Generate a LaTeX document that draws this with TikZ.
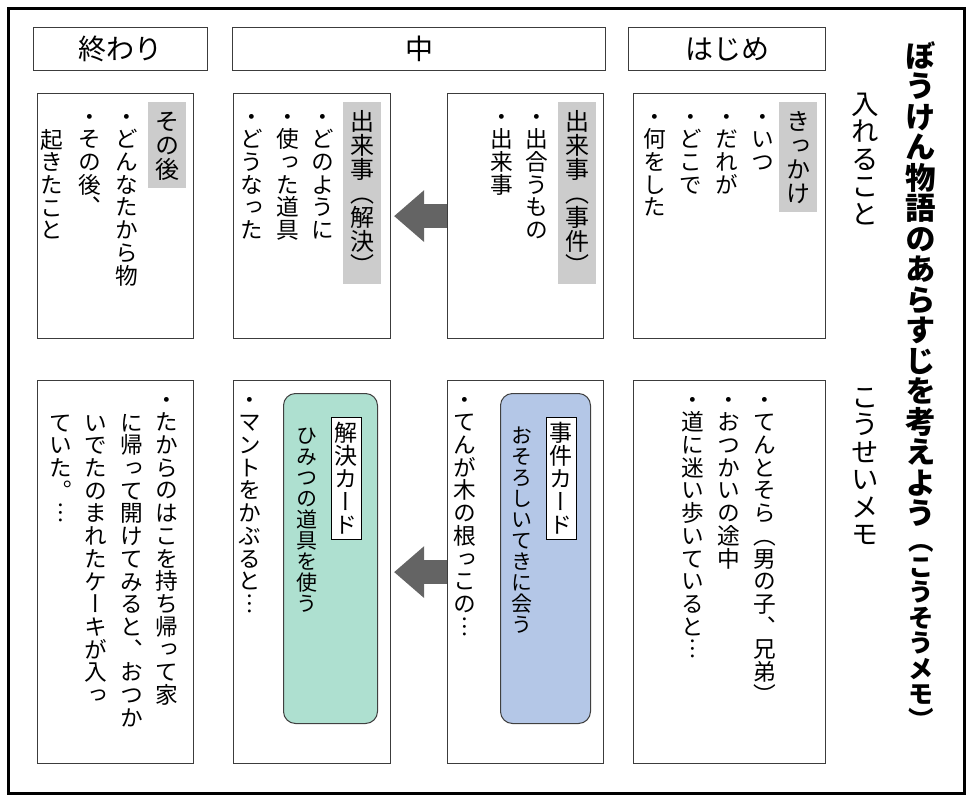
\documentclass[tikz,border=0pt]{standalone}
\usepackage{fontspec}
\usetikzlibrary{arrows.meta,positioning}
\newfontfamily\jpfont{Noto Sans CJK JP}
\newfontfamily\tatefont[RawFeature=+vert]{Noto Sans CJK JP}
\definecolor{midashigray}{RGB}{204,204,204}
\definecolor{jikenblue}{RGB}{180,199,231}
\definecolor{kaiketsugreen}{RGB}{174,224,208}
\definecolor{yajirushigray}{RGB}{100,100,100}
\definecolor{wakugray}{RGB}{60,60,60}

% one column of upright characters, one em per character
\ExplSyntaxOn
\tl_new:N \l_tate_moji_tl
\NewDocumentCommand \tatetext { m }
  {
    \tl_set:No \l_tate_moji_tl {#1}
    \vbox:n
      {
        \offinterlineskip
        \tl_map_inline:Nn \l_tate_moji_tl
          { \hbox_to_wd:nn { 1em } { \hss ##1 \hss \vrule~width~0pt~height~.88em~depth~.12em } }
      }
  }
\ExplSyntaxOff

\begin{document}
\begin{tikzpicture}[x=1pt, y=-1pt,
  waku/.style={draw=wakugray, line width=1.2pt, inner sep=0pt, anchor=north west},
  koumoku/.style={waku, minimum height=43pt, font=\jpfont\fontsize{28pt}{32pt}\selectfont},
  tate/.style={anchor=north, inner sep=0pt, font=\tatefont\fontsize{22.7pt}{27pt}\selectfont},
  midashi/.style={tate, fill=midashigray, inner sep=7pt, font=\tatefont\fontsize{24pt}{28pt}\selectfont},
  card/.style={waku, draw=black!75, line width=1pt, rounded corners=12pt, minimum height=330pt},
  cardname/.style={tate, draw=black, fill=white, line width=.8pt, inner sep=3.5pt, font=\tatefont\fontsize{23pt}{27pt}\selectfont},
  cardtext/.style={tate, font=\tatefont\fontsize{21pt}{25pt}\selectfont},
  yajirushi/.style={draw=yajirushigray, line width=24pt, -{Triangle[length=30pt,width=52pt,line width=0pt]}, shorten >=3pt}]
\useasboundingbox (0,0) rectangle (980,803);
\draw[line width=3pt] (8,8) rectangle (964,793);

\node[tate, font=\tatefont\bfseries\fontsize{30.5pt}{34pt}\selectfont] (title) at (921,40)
  {\vbox{\offinterlineskip\tatetext{ぼうけん物語のあらすじを考えよう}%
   \hbox to 1em{\hss\fontsize{25.5pt}{29pt}\selectfont\tatetext{（こうそうメモ）}\hss}}};
\node[tate, font=\tatefont\fontsize{27.5pt}{32pt}\selectfont] (ireru) at (865,90) {\tatetext{入れること}};
\node[tate, font=\tatefont\fontsize{27.5pt}{32pt}\selectfont] (kousei) at (865,383) {\tatetext{こうせいメモ}};

\node[koumoku, minimum width=174pt] (owariHead) at (33,27) {終わり};
\node[koumoku, minimum width=373pt] (nakaHead) at (232,27) {中};
\node[koumoku, minimum width=197pt] (hajimeHead) at (628,27) {はじめ};

\node[waku, minimum width=156pt, minimum height=245pt] (owariTop) at (37,93) {};
\node[waku, minimum width=157pt, minimum height=245pt] (nakaLTop) at (233,93) {};
\node[waku, minimum width=156pt, minimum height=245pt] (nakaRTop) at (447,93) {};
\node[waku, minimum width=192pt, minimum height=245pt] (hajimeTop) at (633,93) {};
\node[waku, minimum width=156pt, minimum height=383pt] (owariBot) at (37,380) {};
\node[waku, minimum width=157pt, minimum height=383pt] (nakaLBot) at (233,380) {};
\node[waku, minimum width=156pt, minimum height=383pt] (nakaRBot) at (447,380) {};
\node[waku, minimum width=192pt, minimum height=383pt] (hajimeBot) at (633,380) {};

\draw[yajirushi] (nakaRTop) -- (nakaLTop);
\draw[yajirushi] (nakaRBot) -- (nakaLBot);

\node[midashi] (kikkake) at (798,102) {\tatetext{きっかけ}};
\foreach \t [count=\i] in {・いつ,・だれが,・どこで,・何をした}
  \node[tate] (hajime-\i) at ({763-36*(\i-1)},105) {\tatetext{\t}};

\node[midashi] (jiken) at (577,102) {\tatetext{出来事（事件）}};
\foreach \t [count=\i] in {・出合うもの,・出来事}
  \node[tate] (nakaR-\i) at ({537-35*(\i-1)},105) {\tatetext{\t}};

\node[midashi] (kaiketsu) at (362,102) {\tatetext{出来事（解決）}};
\foreach \t [count=\i] in {・どのように,・使った道具,・どうなった}
  \node[tate] (nakaL-\i) at ({323-35.5*(\i-1)},105) {\tatetext{\t}};

\node[midashi] (sonogo) at (167,102) {\tatetext{その後}};
\node[tate] (owari-1) at (127,105) {\tatetext{・どんなたから物}};
\node[tate] (owari-2) at (90,105) {\tatetext{・その後、}};
\node[tate] (owari-3) at (52,128) {\tatetext{起きたこと}};

\foreach \t [count=\i] in {・てんとそら（男の子、兄弟）,・おつかいの途中,・道に迷い歩いていると︙}
  \node[tate] (hajimeMemo-\i) at ({765-36*(\i-1)},388) {\tatetext{\t}};

\node[card, fill=jikenblue, minimum width=90pt] (jikenCard) at (500,393) {};
\node[cardname] (jikenName) at (561,417) {\tatetext{事件カード}};
\node[cardtext] (jikenText) at (522,425) {\tatetext{おそろしいてきに会う}};
\node[tate] (nakaRMemo) at (465,388) {\tatetext{・てんが木の根っこの︙}};

\node[card, fill=kaiketsugreen, minimum width=94pt] (kaiketsuCard) at (283,393) {};
\node[cardname] (kaiketsuName) at (346,417) {\tatetext{解決カード}};
\node[cardtext] (kaiketsuText) at (307,425) {\tatetext{ひみつの道具を使う}};
\node[tate] (nakaLMemo) at (250,388) {\tatetext{・マントをかぶると︙}};

\node[tate] (owariMemo-1) at (167,388) {\tatetext{・たからのはこを持ち帰って家}};
\foreach \t [count=\i from 2] in {に帰って開けてみると、おつか,いでたのまれたケーキが入っ,ていた。︙}
  \node[tate] (owariMemo-\i) at ({167-35.5*(\i-1)},411) {\tatetext{\t}};
\end{tikzpicture}
\end{document}
